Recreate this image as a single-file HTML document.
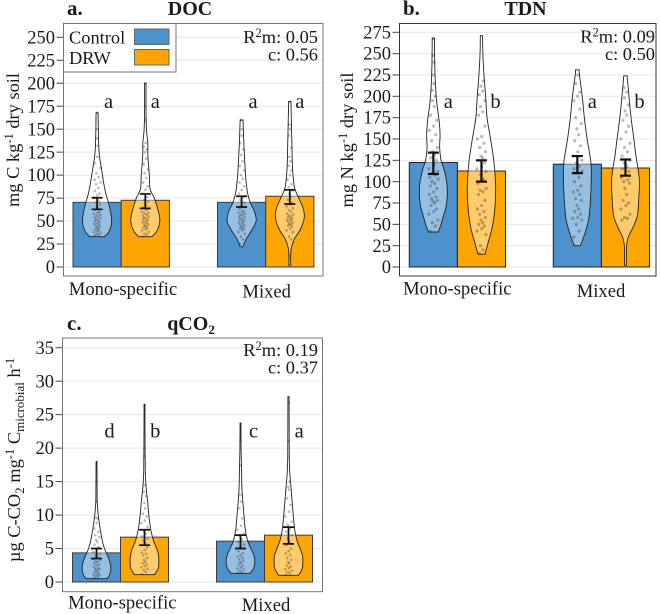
<!DOCTYPE html>
<html lang="en">
<head>
<meta charset="utf-8">
<title>DOC, TDN and qCO2 by stand type and treatment</title>
<style>
html,body{margin:0;padding:0;background:#fff;width:660px;height:614px;overflow:hidden}
svg{display:block;font-family:"Liberation Serif",serif;fill:#1a1a1a}
</style>
</head>
<body>
<svg id="chart" xmlns="http://www.w3.org/2000/svg" width="660" height="614" viewBox="0 0 660 614"></svg>
<script>
const categories = ['Mono-specific', 'Mixed'];
const treatments = ['Control', 'DRW'];

const docTicks = [0, 25, 50, 75, 100, 125, 150, 175, 200, 225, 250];
const docMeans = [70.4, 72.6, 70.4, 77];
const docLow = [62.8, 63.8, 65.3, 68.6];
const docHigh = [75.4, 79.5, 77, 84];
const docLetters = ['a', 'a', 'a', 'a'];
const docLevels = [
  [33,38,45,52,60,70,80,90,100,110,120,130,145,168],
  [33,38,45,52,62,75,85,100,115,125,135,150,170,200],
  [22,30,40,50,60,70,80,90,100,120,140,160],
  [2,10,20,30,40,50,57,65,75,85,95,110,130,150,180]
];
const docDensity = [
  [.5,.8,.97,1,.93,.78,.6,.47,.37,.27,.17,.12,.09,.07],
  [.46,.75,.95,1,.88,.62,.33,.28,.2,.17,.17,.08,.05,.05],
  [.1,.3,.7,1,.9,.6,.42,.33,.27,.2,.14,.1],
  [.07,.06,.1,.3,.7,.95,1,.9,.62,.35,.25,.18,.15,.12,.08]
];
const docPoints = [
  [34,35,36,37,38,39,40,41,42,43,44,45,46,47,48,49,50,51,52,53,54,55,56,57,58,59,60,62,64,66,68,70,72,75,78,80,83,86,90,92,95,98,102,108,113,120,132,140,150,168],
  [33,35,36,38,40,41,42,43,44,45,46,47,48,49,50,51,52,53,54,55,56,57,58,59,60,62,63,65,67,69,71,73,76,80,84,88,92,97,102,106,112,118,125,128,131,135,160,175,200],
  [25,30,33,36,38,40,41,42,43,44,45,46,47,48,49,50,51,52,53,54,55,56,57,58,59,60,61,63,65,67,70,73,76,80,84,88,92,96,100,105,110,115,122,128,135,143,150,160],
  [12,30,33,38,40,42,44,45,46,47,48,49,50,51,52,53,54,55,56,57,58,60,62,64,66,68,70,73,76,80,83,87,90,95,100,105,110,115,120,130,143,150,155,180]
];

const tdnTicks = [0, 25, 50, 75, 100, 125, 150, 175, 200, 225, 250, 275];
const tdnMeans = [122.5, 112.5, 120.5, 116];
const tdnLow = [109, 100, 110, 107];
const tdnHigh = [134, 125, 130, 126];
const tdnLetters = ['a', 'b', 'a', 'b'];
const tdnLevels = [
  [41,50,60,70,85,100,115,125,140,155,170,185,200,225,250,268],
  [15,30,45,60,80,100,125,150,175,200,225,250,271],
  [25,40,55,70,90,110,125,150,175,200,225,231],
  [2,15,25,35,45,60,80,100,115,130,150,175,200,224]
];
const tdnDensity = [
  [.35,.55,.72,.9,1,.95,.75,.55,.45,.48,.42,.3,.2,.12,.09,.08],
  [.25,.5,.75,.9,1,1,.88,.65,.4,.3,.18,.1,.08],
  [.22,.55,.8,.9,.97,1,.95,.7,.5,.35,.15,.13],
  [.06,.07,.08,.2,.5,.85,.95,1,.9,.75,.6,.4,.25,.12]
];
const tdnPoints = [
  [42,48,52,55,62,65,68,72,75,77,78,80,82,85,88,92,95,98,100,103,105,108,110,112,115,120,125,128,132,135,140,148,155,160,165,172,178,188,195,200,207,215,225,240,248,268],
  [16,20,25,38,42,45,48,50,52,55,58,62,65,68,72,78,85,88,90,92,98,103,108,112,115,118,122,125,128,130,135,140,145,150,153,165,178,182,188,195,202,206,212,218],
  [35,42,50,55,57,58,62,65,68,72,78,80,85,88,90,95,100,105,110,112,115,118,122,125,130,135,142,148,155,162,168,175,185,195,200,205,215,225],
  [55,57,58,62,68,72,75,78,85,92,98,100,102,105,108,112,115,118,122,125,130,135,140,145,150,158,165,172,178,183,190,198,205,210]
];

const qco2Ticks = [0, 5, 10, 15, 20, 25, 30, 35];
const qco2Means = [4.35, 6.7, 6.1, 7];
const qco2Low = [3.5, 5.5, 5, 5.7];
const qco2High = [5, 7.8, 7, 8.2];
const qco2Letters = ['d', 'b', 'c', 'a'];
const qco2Levels = [
  [.5,1,2,3,4,5,6,7,8,10,12,14,18],
  [1.1,2,3,4,5,6,7,8,10,12,14,16,18,20,26.5],
  [1.3,2,3,4,5,6,7,8,10,12,14,17,20,23.7],
  [1,2,3,4,5,6,7,8,10,12,14,16,18,20,27.7]
];
const qco2Density = [
  [.7,.9,1,.93,.75,.55,.42,.33,.25,.12,.05,.04,.03],
  [.7,.95,1,.97,.85,.65,.52,.42,.3,.22,.12,.06,.05,.04,.03],
  [.66,.9,1,.93,.72,.52,.4,.32,.24,.16,.1,.07,.04,.03],
  [.7,.95,1,.97,.8,.62,.5,.42,.33,.25,.18,.1,.06,.05,.04]
];
const qco2Points = [
  [.6,.8,.9,1,1.1,1.2,1.3,1.5,1.6,1.8,1.9,2,2.1,2.3,2.5,2.6,2.8,3,3.1,3.3,3.5,3.7,3.9,4.2,4.5,4.8,5.2,5.6,6,6.3,6.7,7,7.5,8,8.8,9.5,9.6,12,15],
  [1.2,1.5,1.8,2,2.2,2.4,2.6,2.8,3,3.3,3.6,4,4.2,4.4,4.8,5.2,5.5,5.8,6.2,6.5,6.8,7.2,7.6,8.2,8.8,9.2,9.8,10.2,11,11.8,12.8,13.5,14.5,18.8,20,26.5],
  [1.4,1.5,1.7,1.9,2,2.2,2.4,2.6,2.8,3,3.2,3.4,3.6,3.8,4,4.3,4.6,5,5.3,5.6,6,6.4,6.8,7.2,7.8,8.4,9.5,11,12,13,17.4,21.2,23.7],
  [1.1,1.3,1.5,1.7,1.9,2.1,2.3,2.5,2.8,3,3.3,3.6,4,4.3,4.6,5,5.5,6,6.5,7,7.5,8,8.5,9,9.8,10.5,11.5,12.5,13.8,14.2,15,21,26.8]
];

const jitterFractions = [-.7,.4,-.2,.9,-.9,.1,.6,-.5,.25,-.1,.8,-.35,.5,-.8,.05,.7,-.6,.3,-.25,.95];

const ns = 'http://www.w3.org/2000/svg';
const root = document.getElementById('chart');

function mk(tag, attrs, parent, text) {
  const el = document.createElementNS(ns, tag);
  for (const k in attrs) el.setAttribute(k, attrs[k]);
  if (text !== undefined) el.textContent = text;
  (parent || root).appendChild(el);
  return el;
}

function smoothEdge(pts) {
  let d = '';
  for (let i = 0; i < pts.length - 1; i++) {
    const p0 = pts[Math.max(0, i - 1)], p1 = pts[i], p2 = pts[i + 1], p3 = pts[Math.min(pts.length - 1, i + 2)];
    const c1 = [p1[0] + (p2[0] - p0[0]) / 6, p1[1] + (p2[1] - p0[1]) / 6];
    const c2 = [p2[0] - (p3[0] - p1[0]) / 6, p2[1] - (p3[1] - p1[1]) / 6];
    d += 'C' + c1[0].toFixed(2) + ' ' + c1[1].toFixed(2) + ' ' + c2[0].toFixed(2) + ' ' + c2[1].toFixed(2) + ' ' + p2[0].toFixed(2) + ' ' + p2[1].toFixed(2);
  }
  return d;
}

function densityAt(levels, dens, v) {
  if (v <= levels[0]) return dens[0];
  for (let i = 1; i < levels.length; i++) {
    if (v <= levels[i]) {
      const t = (v - levels[i - 1]) / (levels[i] - levels[i - 1]);
      return dens[i - 1] + t * (dens[i] - dens[i - 1]);
    }
  }
  return dens[dens.length - 1];
}

function drawPanel(p) {
  const g = mk('g', {});
  
  
  const y = v => p.zeroY + (p.topY - p.zeroY) * v / p.ticks[p.ticks.length - 1];
  const barX = i => p.barStart[i >> 1] + (i % 2) * p.barW;
  const center = i => barX(i) + p.barW / 2;

  const bg = mk('rect', {x: p.left, y: p.top, width: p.right - p.left, height: p.bottom - p.top, fill: '#fff'}, g);
  
  

  p.ticks.forEach(t => {
    const grid = mk('line', {x1: p.left, x2: p.right, y1: y(t), y2: y(t), stroke: '#e6e6e6', 'stroke-width': 1}, g);
    
    
    const tick = mk('line', {x1: p.left - 7, x2: p.left, y1: y(t), y2: y(t), stroke: '#444', 'stroke-width': 1}, g);
    
    
    const lab = mk('text', {x: p.left - 8.5, y: y(t) + 6.1, 'text-anchor': 'end', 'font-size': 18.5}, g, String(t));
    
    
  });

  p.means.forEach((m, i) => {
    const bar = mk('rect', {x: barX(i), y: y(m), width: p.barW, height: y(0) - y(m), fill: i % 2 ? '#ffa500' : '#4d91cd', stroke: p.barStroke, 'stroke-width': 1}, g);
    
    
  });

  p.levels.forEach((levels, i) => {
    const dens = p.density[i], cx = center(i);
    const rightEdge = levels.map((v, k) => [cx + dens[k] * p.maxHalf, y(v)]);
    const leftEdge = levels.map((v, k) => [cx - dens[k] * p.maxHalf, y(v)]).reverse();
    const d = 'M' + rightEdge[0][0].toFixed(2) + ' ' + rightEdge[0][1].toFixed(2) + smoothEdge(rightEdge) +
      'L' + leftEdge[0][0].toFixed(2) + ' ' + leftEdge[0][1].toFixed(2) + smoothEdge(leftEdge) + 'Z';
    const violin = mk('path', {d: d, fill: 'rgba(255,255,255,.42)', stroke: '#222', 'stroke-width': .9}, g);
    
    

    p.points[i].forEach((v, k) => {
      const hw = densityAt(levels, dens, v) * p.maxHalf;
      const off = jitterFractions[k % jitterFractions.length] * Math.min(p.jitter, Math.max(hw - .8, .3));
      const pt = mk('circle', {cx: cx + off, cy: y(v), r: p.pointR, fill: 'rgba(30,30,30,' + p.pointA + ')'}, g);
      
      
    });

    const low = y(p.low[i]), high = y(p.high[i]);
    const err = mk('path', {d: 'M' + (cx - p.cap) + ' ' + high + 'H' + (cx + p.cap) + 'M' + cx + ' ' + high + 'V' + low + 'M' + (cx - p.cap) + ' ' + low + 'H' + (cx + p.cap), fill: 'none', stroke: '#111', 'stroke-width': p.errW}, g);
    
    

    const letter = mk('text', {x: cx + p.letterOff[i % 2], y: p.letterY, 'text-anchor': 'middle', 'font-size': 20.5}, g, p.letters[i]);
    
    
  });

  const frame = mk('rect', {x: p.left, y: p.top, width: p.right - p.left, height: p.bottom - p.top, fill: 'none', stroke: p.frame, 'stroke-width': 1}, g);
  
  

  categories.forEach((c, i) => {
    const lab = mk('text', {x: p.catX[i], y: p.catY[i], 'text-anchor': 'middle', 'font-size': 18.6}, g, c);
    
    
  });

  const panelLabel = mk('text', {x: p.labelX, y: p.titleY, 'font-weight': 'bold', 'font-size': 21}, g, p.label);
  
  

  const title = mk('text', {x: p.titleX, y: p.titleY, 'text-anchor': 'middle', 'font-weight': 'bold', 'font-size': 20}, g);
  
  
  title.appendChild(document.createTextNode(p.title));
  if (p.titleSub) mk('tspan', {dy: 4, 'font-size': 13}, title, p.titleSub);

  const r2 = mk('text', {x: p.statX, y: p.statY, 'text-anchor': 'end', 'font-size': 18.4}, g);
  
  
  r2.appendChild(document.createTextNode('R'));
  mk('tspan', {dy: -6, 'font-size': 12.5}, r2, '2');
  mk('tspan', {dy: 6}, r2, 'm: ' + p.r2m);

  const r2c = mk('text', {x: p.statX, y: p.statY + 17.5, 'text-anchor': 'end', 'font-size': 18.4}, g, 'c: ' + p.r2c);
  
  

  const yt = mk('text', {transform: 'translate(' + p.yTitleX + ' ' + p.yTitleY + ') rotate(-90)', 'text-anchor': 'middle', 'font-size': 18.4}, g);
  
  
  p.yTitle.forEach(part => {
    const span = mk('tspan', {}, yt, part[0]);
    if (part[1] === 'sup') { span.setAttribute('dy', -6); span.setAttribute('font-size', 12.5); }
    if (part[1] === 'sub') { span.setAttribute('dy', 4); span.setAttribute('font-size', 13); }
    if (part[1] === 'back-down') span.setAttribute('dy', 6);
    if (part[1] === 'back-up') span.setAttribute('dy', -4);
  });
}

drawPanel({
  key: 'doc', label: 'a.', title: 'DOC', titleX: 190, titleY: 15, labelX: 67,
  left: 63.5, right: 323, top: 23.5, bottom: 276, zeroY: 267, topY: 37.3, ticks: docTicks,
  barStart: [73, 217.5], barW: 48.2, barStroke: '#3c3c3c', frame: '#757575',
  means: docMeans, low: docLow, high: docHigh, letters: docLetters, levels: docLevels, density: docDensity, points: docPoints,
  maxHalf: 14.5, jitter: 3.5, pointR: 1.3, pointA: .3, cap: 5.5, errW: 1.7, letterOff: [11.5, 10], letterY: 108,
  catX: [123, 266.7], catY: [295, 297.5], statX: 318, statY: 43, r2m: '0.05', r2c: '0.56',
  yTitleX: 19, yTitleY: 140, yTitle: [['mg C kg'], ['-1', 'sup'], [' dry soil', 'back-down']]
});

drawPanel({
  key: 'tdn', label: 'b.', title: 'TDN', titleX: 525.5, titleY: 15, labelX: 403,
  left: 399.5, right: 656, top: 23.5, bottom: 276, zeroY: 267, topY: 32.3, ticks: tdnTicks,
  barStart: [409.3, 553.3], barW: 48.1, barStroke: '#222', frame: '#333',
  means: tdnMeans, low: tdnLow, high: tdnHigh, letters: tdnLetters, levels: tdnLevels, density: tdnDensity, points: tdnPoints,
  maxHalf: 14, jitter: 5, pointR: 1.6, pointA: .3, cap: 5.5, errW: 2.2, letterOff: [15, 14], letterY: 108,
  catX: [457.3, 601], catY: [294.7, 297], statX: 655, statY: 42.5, r2m: '0.09', r2c: '0.50',
  yTitleX: 353, yTitleY: 140, yTitle: [['mg N kg'], ['-1', 'sup'], [' dry soil', 'back-down']]
});

drawPanel({
  key: 'qco2', label: 'c.', title: 'qCO', titleSub: '2', titleX: 191, titleY: 330, labelX: 67,
  left: 62.5, right: 322.5, top: 338, bottom: 591.7, zeroY: 582, topY: 347.7, ticks: qco2Ticks,
  barStart: [72.5, 216.5], barW: 48, barStroke: '#3c3c3c', frame: '#757575',
  means: qco2Means, low: qco2Low, high: qco2High, letters: qco2Letters, levels: qco2Levels, density: qco2Density, points: qco2Points,
  maxHalf: 14.4, jitter: 3.5, pointR: 1.3, pointA: .3, cap: 5.5, errW: 1.7, letterOff: [13, 10.7], letterY: 437.5,
  catX: [122.3, 266], catY: [608.5, 611], statX: 318, statY: 356, r2m: '0.19', r2c: '0.37',
  yTitleX: 20, yTitleY: 460, yTitle: [['µg C-CO'], ['2', 'sub'], [' mg', 'back-up'], ['-1', 'sup'], [' C', 'back-down'], ['microbial', 'sub'], [' h', 'back-up'], ['-1', 'sup']]
});

const legend = mk('g', {});


const legendBox = mk('rect', {x: 63.5, y: 23.5, width: 112.5, height: 48.5, fill: '#fff', stroke: '#757575', 'stroke-width': 1}, legend);


treatments.forEach((t, i) => {
  const label = mk('text', {x: 69, y: 43.5 + i * 20.5, 'font-size': 18.4}, legend, t);
  
  
  const swatch = mk('rect', {x: 134.5, y: 29 + i * 20.5, width: 34.5, height: 15.5, fill: i ? '#ffa500' : '#4d91cd', stroke: '#666', 'stroke-width': 1}, legend);
  
  
});
</script>
</body>
</html>
